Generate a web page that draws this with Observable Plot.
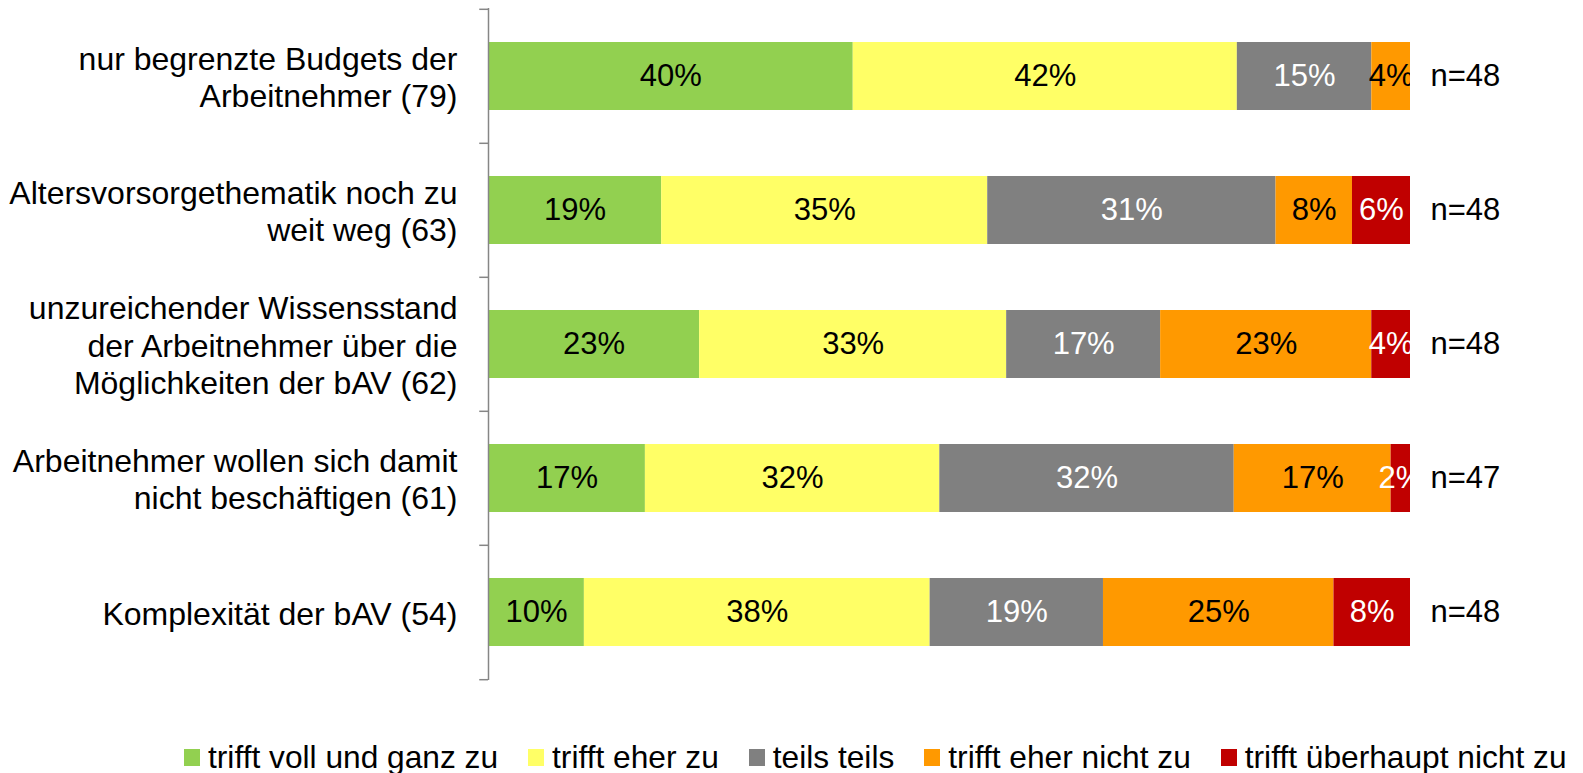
<!DOCTYPE html>
<html>
<head>
<meta charset="utf-8">
<script src="https://cdn.jsdelivr.net/npm/d3@7"></script>
<script src="https://cdn.jsdelivr.net/npm/@observablehq/plot@0.6"></script>
<style>
  html, body { margin: 0; padding: 0; background: #fff; }
  body { width: 1583px; height: 773px; position: relative; overflow: hidden; font-family: "Liberation Sans", Arial, sans-serif; }
  #chart { position: absolute; left: 0; top: 0; }
  #legend { position: absolute; left: 184px; top: 741px; display: flex; align-items: center; font-size: 31.7px; line-height: 32px; color: #000; white-space: nowrap; }
  #legend .item { display: flex; align-items: center; margin-right: 30px; }
  #legend .sw { width: 16px; height: 17px; margin-right: 8px; }
</style>
</head>
<body>
<div id="chart"></div>
<div id="legend"></div>
<script>
const categories = [
  "nur begrenzte Budgets der\nArbeitnehmer (79)",
  "Altersvorsorgethematik noch zu\nweit weg (63)",
  "unzureichender Wissensstand\nder Arbeitnehmer über die\nMöglichkeiten der bAV (62)",
  "Arbeitnehmer wollen sich damit\nnicht beschäftigen (61)",
  "Komplexität der bAV (54)"
];
const nValues = [48, 48, 48, 47, 48];
const responses = ["trifft voll und ganz zu", "trifft eher zu", "teils teils", "trifft eher nicht zu", "trifft überhaupt nicht zu"];
const colors = ["#92D050", "#FFFF66", "#808080", "#FF9900", "#C00000"];
const labelColors = ["black", "black", "white", "black", "white"];

// percentages per response, in category order
const vollUndGanz   = [39.6, 18.8, 22.9, 17.0, 10.4];
const eherZu        = [41.7, 35.4, 33.3, 31.9, 37.5];
const teilsTeils    = [14.6, 31.3, 16.7, 31.9, 18.8];
const eherNicht     = [4.2, 8.3, 22.9, 17.0, 25.0];
const ueberhauptNicht = [0, 6.3, 4.2, 2.1, 8.3];
const series = [vollUndGanz, eherZu, teilsTeils, eherNicht, ueberhauptNicht];

const data = [];
categories.forEach((c, i) => {
  responses.forEach((r, j) => {
    data.push({category: c, response: r, value: series[j][i]});
  });
});
const nData = categories.map((c, i) => ({category: c, n: "n=" + nValues[i]}));

const W = 1583, H = 700, mTop = 8, mBottom = 20, mLeft = 488, mRight = 173;
const step = (H - mTop - mBottom) / categories.length;
const font = "'Liberation Sans', Arial, sans-serif";
const gray = "#868686";

const stackOpts = {y: "category", x: "value", z: "response", offset: "normalize"};
const labelText = (col) => (d) => {
  const j = responses.indexOf(d.response);
  if (labelColors[j] !== col || d.value <= 0) return "";
  return Math.round(d.value) + "%";
};

const plot = Plot.plot({
  width: W,
  height: H,
  marginTop: mTop,
  marginBottom: mBottom,
  marginLeft: mLeft,
  marginRight: mRight,
  style: {fontFamily: font, background: "white", overflow: "visible"},
  x: {domain: [0, 1], axis: null},
  y: {domain: categories, axis: null, paddingInner: 0.49, paddingOuter: 0.245},
  color: {domain: responses, range: colors},
  marks: [
    Plot.barX(data, Plot.stackX({...stackOpts, fill: "response"})),
    Plot.text(data, Plot.stackX({...stackOpts, text: labelText("black"), fill: "black", fontSize: 31, clip: true})),
    Plot.text(data, Plot.stackX({...stackOpts, text: labelText("white"), fill: "white", fontSize: 31, clip: true})),
    Plot.ruleX([0], {stroke: gray, strokeWidth: 1.5}),
    Plot.ruleY(categories, {y: d => d, x1: -0.0095, x2: 0, dy: -step / 2, stroke: gray, strokeWidth: 1.5}),
    Plot.ruleY([categories[categories.length - 1]], {y: d => d, x1: -0.0095, x2: 0, dy: step / 2, stroke: gray, strokeWidth: 1.5}),
    Plot.text(categories, {y: d => d, text: d => d, frameAnchor: "left", dx: -31, textAnchor: "end", fontSize: 32, lineHeight: 1.18, fill: "black"}),
    Plot.text(nData, {y: "category", x: 1, text: "n", dx: 20, textAnchor: "start", fontSize: 31, fill: "black"})
  ]
});
document.getElementById("chart").appendChild(plot);

const legend = document.getElementById("legend");
responses.forEach((r, j) => {
  const item = document.createElement("div");
  item.className = "item";
  const sw = document.createElement("span");
  sw.className = "sw";
  sw.style.background = colors[j];
  const t = document.createElement("span");
  t.textContent = r;
  item.appendChild(sw);
  item.appendChild(t);
  legend.appendChild(item);
});
</script>
</body>
</html>
